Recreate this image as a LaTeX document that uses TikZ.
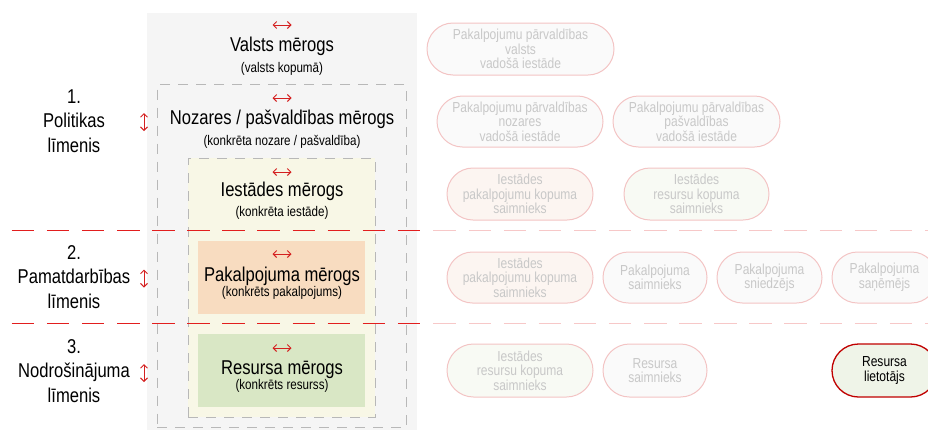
\documentclass[tikz,border=0pt]{standalone}
\usepackage{fontspec}
\setmainfont{Liberation Sans}[FakeStretch=0.83]
\usetikzlibrary{arrows.meta,shapes.misc}
\definecolor{bggray}{HTML}{F5F5F5}
\definecolor{dashgray}{HTML}{B8B8B8}
\definecolor{cream}{HTML}{F8F7E6}
\definecolor{peach}{HTML}{F8DCC0}
\definecolor{lgreen}{HTML}{D9E7C5}
\definecolor{sepred}{RGB}{226,30,30}
\definecolor{seppink}{RGB}{247,200,200}
\definecolor{arrred}{HTML}{D42020}
\definecolor{pillborder}{HTML}{F3C4C4}
\definecolor{pilltext}{HTML}{C8C8C8}
\definecolor{pillgray}{HTML}{FAFAFA}
\definecolor{pillpeach}{HTML}{FCF5F1}
\definecolor{pillgreen}{HTML}{F8FAF4}
\definecolor{userfill}{HTML}{EFF4E8}
\definecolor{userborder}{HTML}{C00000}
\tikzset{
  plainbox/.style={rectangle, inner sep=0pt, outer sep=0pt},
  dashbox/.style={plainbox, draw=dashgray, line width=0.9pt, dash pattern=on 10pt off 8pt},
  titletext/.style={inner sep=0pt, anchor=base, font=\fontsize{20}{24}\selectfont},
  subtext/.style={inner sep=0pt, anchor=base, font=\fontsize{14}{16}\selectfont},
  scalearrow/.style={draw=arrred, line width=1pt,
    {Straight Barb[length=3.5pt,width=7pt]}-{Straight Barb[length=3.5pt,width=7pt]}},
  levellabel/.style={inner sep=0pt, align=center, font=\fontsize{20}{24.5}\selectfont},
  reddash/.style={draw=sepred, line width=1.3pt, dash pattern=on 22.5pt off 12.6pt},
  pinkdash/.style={draw=seppink, line width=1.3pt, dash pattern=on 22.5pt off 12.6pt},
  pill/.style={rounded rectangle, draw=pillborder, line width=1pt, inner sep=0pt,
    text=pilltext, align=center, font=\fontsize{14.5}{14.5}\selectfont, fill=pillgray},
}
\begin{document}
\begin{tikzpicture}[x=1pt,y=-1pt]
\useasboundingbox (0,0) rectangle (928,429);

% nested scope boxes
\node[plainbox, fill=bggray, minimum width=270pt, minimum height=418pt] (valsts) at (282,222) {};
\node[dashbox, fill=bggray, minimum width=249pt, minimum height=343pt] (nozares) at (281.5,256) {};
\node[dashbox, fill=cream, minimum width=187pt, minimum height=259pt] (iestades) at (281.5,287.5) {};
\node[plainbox, fill=peach, minimum width=167pt, minimum height=73pt] (pakalp) at (281.5,277.5) {};
\node[plainbox, fill=lgreen, minimum width=167pt, minimum height=73pt] (resurss) at (281.5,370.5) {};

% level separators
\coordinate (d1a) at (11.7,230.5);
\coordinate (d1b) at (420.3,230.5);
\coordinate (d1c) at (433.4,230.5);
\coordinate (d1d) at (928,230.5);
\coordinate (d2a) at (11.7,323.5);
\coordinate (d2b) at (420.3,323.5);
\coordinate (d2c) at (433.4,323.5);
\coordinate (d2d) at (928,323.5);
\draw[reddash] (d2a) -- (d2b);
\draw[reddash] (d1a) -- (d1b);
\draw[pinkdash] (d2c) -- (d2d);
\draw[pinkdash] (d1c) -- (d1d);

% horizontal scale arrows
\coordinate (a1) at (282,25);
\coordinate (a2) at (282,98);
\coordinate (a3) at (282,172);
\coordinate (a4) at (282,254);
\coordinate (a5) at (282,348);
\foreach \c in {a1,a2,a3,a4,a5}
  \draw[scalearrow] ([xshift=-9.5pt]\c) -- ([xshift=9.5pt]\c);

% titles
\node[titletext] (t1) at (282,51.7) {Valsts mērogs};
\node[subtext] (s1) at (282,72) {(valsts kopumā)};
\node[titletext] (t2) at (282,124) {Nozares / pašvaldības mērogs};
\node[subtext] (s2) at (282,145) {(konkrēta nozare / pašvaldība)};
\node[titletext] (t3) at (282,196.7) {Iestādes mērogs};
\node[subtext] (s3) at (282,216) {(konkrēta iestāde)};
\node[titletext] (t4) at (282,281) {Pakalpojuma mērogs};
\node[subtext] (s4) at (282,296) {(konkrēts pakalpojums)};
\node[titletext] (t5) at (282,374) {Resursa mērogs};
\node[subtext] (s5) at (282,389) {(konkrēts resurss)};

% level labels
\node[levellabel] (l1) at (74,121) {1.\\Politikas\\līmenis};
\node[levellabel] (l2) at (74,277) {2.\\Pamatdarbības\\līmenis};
\node[levellabel] (l3) at (74,371) {3.\\Nodrošinājuma\\līmenis};
\coordinate (v1) at (144,122);
\coordinate (v2) at (144,278.5);
\coordinate (v3) at (144,373);
\foreach \c in {v1,v2,v3}
  \draw[scalearrow] ([yshift=-9pt]\c) -- ([yshift=9pt]\c);

% role pills
\node[pill, minimum width=187pt, minimum height=52pt] (pA) at (520.5,49) {Pakalpojumu pārvaldības\\valsts\\vadošā iestāde};
\node[pill, minimum width=166pt, minimum height=51pt] (pB) at (520,121.5) {Pakalpojumu pārvaldības\\nozares\\vadošā iestāde};
\node[pill, minimum width=167pt, minimum height=51pt] (pC) at (696.5,121.5) {Pakalpojumu pārvaldības\\pašvaldības\\vadošā iestāde};
\node[pill, fill=pillpeach, minimum width=146pt, minimum height=52pt] (pD) at (520,194) {Iestādes\\pakalpojumu kopuma\\saimnieks};
\node[pill, fill=pillgreen, minimum width=145pt, minimum height=52pt] (pE) at (696.5,194) {Iestādes\\resursu kopuma\\saimnieks};
\node[pill, fill=pillpeach, minimum width=146pt, minimum height=51pt] (pF) at (520,277.5) {Iestādes\\pakalpojumu kopuma\\saimnieks};
\node[pill, minimum width=104pt, minimum height=51pt] (pG) at (655,277.5) {Pakalpojuma\\saimnieks};
\node[pill, minimum width=105pt, minimum height=51pt] (pH) at (769.5,277.5) {Pakalpojuma\\sniedzējs};
\node[pill, minimum width=105pt, minimum height=51pt] (pI) at (884.5,277.5) {Pakalpojuma\\saņēmējs};
\node[pill, fill=pillgreen, minimum width=146pt, minimum height=53pt] (pJ) at (520,370.5) {Iestādes\\resursu kopuma\\saimnieks};
\node[pill, minimum width=104pt, minimum height=53pt] (pK) at (655,370.5) {Resursa\\saimnieks};
\node[pill, draw=userborder, fill=userfill, text=black, line width=1.3pt, minimum width=105pt, minimum height=53pt] (pL) at (884.5,370.5) {Resursa\\lietotājs};
\end{tikzpicture}
\end{document}
